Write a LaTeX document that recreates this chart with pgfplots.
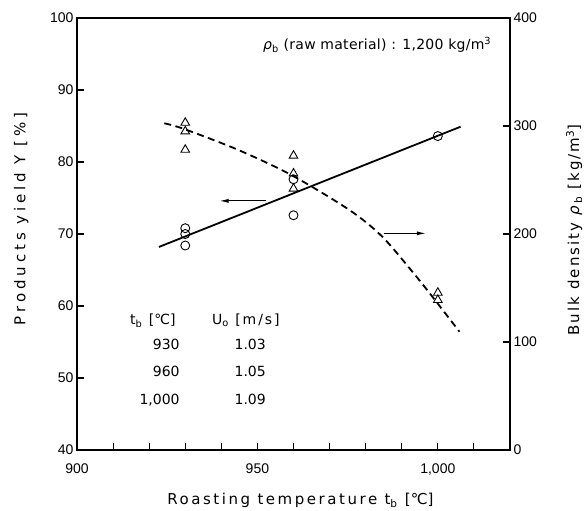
\documentclass[border=0pt]{standalone}
\usepackage{pgfplots}
\pgfplotsset{compat=1.18}
\usetikzlibrary{arrows.meta,calc}
\usepackage{fontspec}
\setmainfont{Liberation Sans}
\newfontfamily\xlblfont{DejaVu Sans}[LetterSpace=17]
\newfontfamily\ylblfont{DejaVu Sans}[LetterSpace=26]
\newfontfamily\rlblfont{DejaVu Sans}[LetterSpace=14]
\newfontfamily\txtfont{DejaVu Sans}[LetterSpace=2]
\newfontfamily\tabfont{DejaVu Sans}[LetterSpace=14]
\newfontfamily\numfont{DejaVu Sans}
\newfontfamily\dejavu{DejaVu Sans}
\newcommand{\degC}{{\dejavu\char"2103}}
\begin{document}
\begin{tikzpicture}
\pgfplotsset{
  common/.style={scale only axis, width=433pt, height=432pt, xmin=900, xmax=1020,
    tick align=inside, major tick length=7pt,
    axis line style={line width=1.3pt},
    every tick/.style={black, line width=1.1pt},
    tick label style={font=\fontsize{14}{16}\selectfont},
    /pgf/number format/assume math mode=true,
    clip=false},
}
\begin{axis}[common, name=ax,
  ymin=40, ymax=100, ytick={40,50,...,100},
  ytick pos=left, xtick pos=bottom,
  xtick={900,910,...,1010},
  xticklabels={900,,,,,950,,,,,{1,000},},
  xticklabel style={yshift=-10pt},
  xlabel={Roasting temperature t\textsubscript{b} [\degC]},
  xlabel style={font=\xlblfont\fontsize{15}{18}\selectfont, at={(axis description cs:0.516,-0.127)}, anchor=base},
  ylabel={Products yield Y [\%]},
  ylabel style={font=\ylblfont\fontsize{15}{18}\selectfont, at={(axis description cs:-0.129,0.535)}, anchor=center},
]
\addplot[only marks, mark=o, mark size=4.5pt, mark options={line width=0.9pt}]
  coordinates {(930,70.8)(930,70.0)(930,68.4)(960,77.6)(960,72.6)(1000,83.6)};
\addplot[line width=1.8pt] coordinates {(922.7,68.2)(1006.3,84.9)};
\draw[line width=1pt, -{Latex[length=9pt,width=4pt]}] (axis cs:952.3,74.6) -- (axis cs:939.5,74.6);
\node[anchor=base west, inner sep=0pt, font=\txtfont\fontsize{14}{16}\selectfont] at (axis cs:951.5,95.6)
  {\textit{ρ}\textsubscript{b} (raw material) : 1,200 kg/m\textsuperscript{3}};
\begin{scope}[every node/.style={inner sep=0pt, font=\numfont\fontsize{14}{16}\selectfont}]
\node[anchor=base west, font=\tabfont\fontsize{14}{16}\selectfont] at (axis cs:914.7,57.4) {t\textsubscript{b} [\degC]};
\node[anchor=base west, font=\tabfont\fontsize{14}{16}\selectfont] at (axis cs:937.4,57.4) {U\textsubscript{o} [m/s]};
\node[anchor=base east] at (axis cs:928.5,53.9) {930};
\node[anchor=base east] at (axis cs:928.5,50.2) {960};
\node[anchor=base east] at (axis cs:928.5,46.25) {1,000};
\node[anchor=base] at (axis cs:948.0,53.9) {1.03};
\node[anchor=base] at (axis cs:948.0,50.2) {1.05};
\node[anchor=base] at (axis cs:948.0,46.25) {1.09};
\end{scope}
\end{axis}
\begin{axis}[common,
  ymin=0, ymax=400, ytick={0,100,...,400},
  axis y line*=right, axis x line=none,
  ylabel={Bulk density \textit{ρ}\textsubscript{b} [kg/m\textsuperscript{3}]},
  ylabel style={font=\rlblfont\fontsize{15}{18}\selectfont, at={(axis description cs:1.148,0.509)}, anchor=center},
]
\addplot[only marks, mark=triangle, mark size=5pt, mark options={line width=0.9pt}]
  coordinates {(930,303)(930,295)(930,278)(960,272.5)(960,256)(960,242)(1000,145.6)(1000,138.9)};
\addplot[smooth, line width=1.8pt, dash pattern=on 7pt off 4.5pt]
  coordinates {(924.2,302.5)(929.7,297.2)(944.5,278.1)(959.4,254.6)(975.5,222.2)(984.6,197.5)(993.7,162.0)(999.2,138.9)(1006.0,109.5)};
\draw[line width=1pt, -{Latex[length=9pt,width=4pt]}] (axis cs:985,200.6) -- (axis cs:996.7,200.6);
\end{axis}
\pgfresetboundingbox
\path ($(ax.south west)+(-77pt,-61pt)$) rectangle ($(ax.north east)+(75pt,18pt)$);
\end{tikzpicture}
\end{document}
